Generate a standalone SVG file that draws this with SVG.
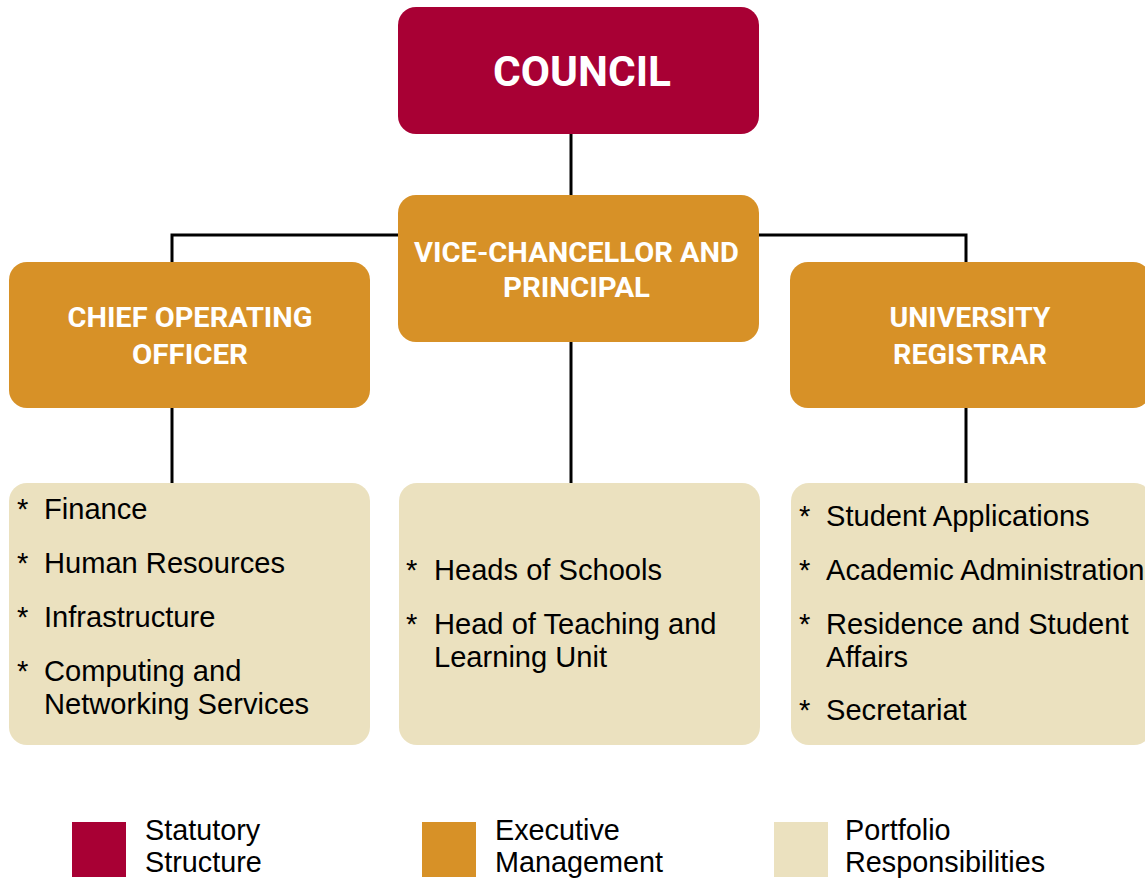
<svg xmlns="http://www.w3.org/2000/svg" width="1145" height="879" viewBox="0 0 1145 879">
  <style>
    .statutory { fill: #A80034; }
    .executive { fill: #D79127; }
    .portfolio { fill: #EBE1BF; }
    .head { font-family: Roboto, "DejaVu Sans", sans-serif; font-weight: bold; fill: #FFFFFF; text-anchor: middle; }
    .item { font-family: "Liberation Sans", Arial, sans-serif; font-size: 29.1px; fill: #000000; }
    .legend { font-family: "Liberation Sans", Arial, sans-serif; font-size: 28.8px; fill: #000000; }
    .link { stroke: #000000; stroke-width: 3; fill: none; }
  </style>

  <!-- reporting lines -->
  <g id="connectors">
    <line class="link" x1="571" y1="130" x2="571" y2="200"/>
    <polyline class="link" points="172,265 172,235 966,235 966,265"/>
    <line class="link" x1="172" y1="404" x2="172" y2="486"/>
    <line class="link" x1="571" y1="338" x2="571" y2="486"/>
    <line class="link" x1="966" y1="404" x2="966" y2="486"/>
  </g>

  <g id="council">
    <rect class="statutory" x="398" y="7" width="361" height="127" rx="18"/>
    <text class="head" x="582" y="86" font-size="42" textLength="178" lengthAdjust="spacingAndGlyphs">COUNCIL</text>
  </g>

  <g id="vice-chancellor">
    <rect class="executive" x="398" y="195" width="361" height="147" rx="18"/>
    <text class="head" x="576.5" y="262" font-size="28" textLength="325" lengthAdjust="spacingAndGlyphs">VICE-CHANCELLOR AND</text>
    <text class="head" x="576.5" y="297" font-size="28" textLength="147" lengthAdjust="spacingAndGlyphs">PRINCIPAL</text>
  </g>

  <g id="chief-operating-officer">
    <rect class="executive" x="9" y="262" width="361" height="146" rx="18"/>
    <text class="head" x="190" y="327" font-size="28" textLength="245" lengthAdjust="spacingAndGlyphs">CHIEF OPERATING</text>
    <text class="head" x="190" y="364" font-size="28" textLength="116" lengthAdjust="spacingAndGlyphs">OFFICER</text>
  </g>

  <g id="university-registrar">
    <rect class="executive" x="790" y="262" width="361" height="146" rx="18"/>
    <text class="head" x="970" y="327" font-size="28" textLength="161" lengthAdjust="spacingAndGlyphs">UNIVERSITY</text>
    <text class="head" x="970" y="364" font-size="28" textLength="154" lengthAdjust="spacingAndGlyphs">REGISTRAR</text>
  </g>

  <g id="coo-portfolio">
    <rect class="portfolio" x="9" y="483" width="361" height="262" rx="18"/>
    <text class="item" x="17" y="519">*</text>
    <text class="item" x="44" y="519">Finance</text>
    <text class="item" x="17" y="573">*</text>
    <text class="item" x="44" y="573">Human Resources</text>
    <text class="item" x="17" y="627">*</text>
    <text class="item" x="44" y="627">Infrastructure</text>
    <text class="item" x="17" y="681">*</text>
    <text class="item" x="44" y="681">Computing and</text>
    <text class="item" x="44" y="714">Networking Services</text>
  </g>

  <g id="vc-portfolio">
    <rect class="portfolio" x="399" y="483" width="361" height="262" rx="18"/>
    <text class="item" x="406" y="580">*</text>
    <text class="item" x="434" y="580">Heads of Schools</text>
    <text class="item" x="406" y="634">*</text>
    <text class="item" x="434" y="634">Head of Teaching and</text>
    <text class="item" x="434" y="667">Learning Unit</text>
  </g>

  <g id="registrar-portfolio">
    <rect class="portfolio" x="791" y="483" width="361" height="262" rx="18"/>
    <text class="item" x="799" y="526">*</text>
    <text class="item" x="826" y="526">Student Applications</text>
    <text class="item" x="799" y="580">*</text>
    <text class="item" x="826" y="580">Academic Administration</text>
    <text class="item" x="799" y="634">*</text>
    <text class="item" x="826" y="634">Residence and Student</text>
    <text class="item" x="826" y="667">Affairs</text>
    <text class="item" x="799" y="720">*</text>
    <text class="item" x="826" y="720">Secretariat</text>
  </g>

  <g id="legend">
    <rect class="statutory" x="72" y="822" width="54" height="55"/>
    <text class="legend" x="145" y="840">Statutory</text>
    <text class="legend" x="145" y="872">Structure</text>
    <rect class="executive" x="422" y="822" width="54" height="55"/>
    <text class="legend" x="495" y="840">Executive</text>
    <text class="legend" x="495" y="872">Management</text>
    <rect class="portfolio" x="774" y="822" width="54" height="55"/>
    <text class="legend" x="845" y="840">Portfolio</text>
    <text class="legend" x="845" y="872">Responsibilities</text>
  </g>
</svg>
